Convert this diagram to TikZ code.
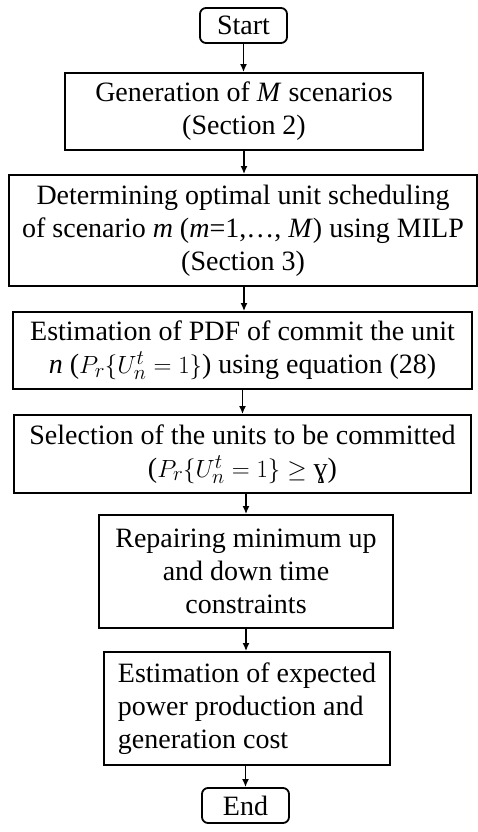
\documentclass[tikz,border=0pt]{standalone}
\usepackage{fontspec}
\setmainfont{Liberation Serif}
\usetikzlibrary{arrows.meta}
\tikzset{
	stepbox/.style={draw,line width=1.8pt,align=center,inner sep=0pt},
	termbox/.style={draw,line width=1.8pt,rounded corners=6pt,minimum width=87pt,minimum height=35pt,inner sep=0pt},
	flow/.style={-{Latex[length=8pt,width=7pt]},line width=1.6pt}
}
\begin{document}
\begin{tikzpicture}[x=1pt,y=-1pt,font=\fontsize{28}{33}\selectfont]
	\useasboundingbox (0,0) rectangle (478,832);
	\node[termbox] (start) at (243.5,25.5) {Start};
	\node[stepbox,minimum width=358pt,minimum height=77pt] (gen) at (244,111.5) {Generation of \textit{M} scenarios\\(Section 2)};
	\node[stepbox,minimum width=468pt,minimum height=111pt] (milp) at (243,230.5) {Determining optimal unit scheduling\\of scenario \textit{m} (\textit{m}=1,\ldots, \textit{M}) using MILP\\(Section 3)};
	\node[stepbox,minimum width=459pt,minimum height=77pt] (pdf) at (242.5,350.5) {Estimation of PDF of commit the unit\\\textit{n} ($P_r\{U_n^t=1\}$) using equation (28)};
	\node[stepbox,minimum width=457pt,minimum height=78pt] (sel) at (242.5,454) {Selection of the units to be committed\\($P_r\{U_n^t=1\}\geq$ ɣ)};
	\node[stepbox,minimum width=294pt,minimum height=113pt] (rep) at (246,571.5) {Repairing minimum up\\and down time\\constraints};
	\node[stepbox,align=left,minimum width=286pt,minimum height=113pt] (cost) at (247,708.5) {Estimation of expected\\power production and\\generation cost};
	\node[termbox] (end) at (245.5,805.5) {End};
	% arrows
	\draw[flow] (start.south) -- (start.south |- gen.north);
	\draw[flow] (gen.south) -- (gen.south |- milp.north);
	\draw[flow] (gen.south |- milp.south) -- (gen.south |- pdf.north);
	\draw[flow] (sel.north |- pdf.south) -- (sel.north);
	\draw[flow] (rep.north |- sel.south) -- (rep.north);
	\draw[flow] (rep.south) -- (rep.south |- cost.north);
	\draw[flow] (end.north |- cost.south) -- (end.north);
\end{tikzpicture}
\end{document}
